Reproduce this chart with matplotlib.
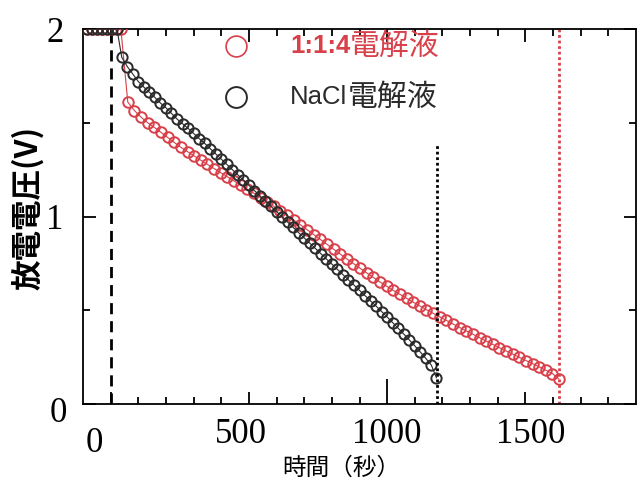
import matplotlib
matplotlib.use('Agg')
import matplotlib.pyplot as plt
from matplotlib.transforms import ScaledTranslation

# ---- data (time in s, voltage in V) ----
mix_t = [-85, -67, -49, -31, -13, 5, 23, 37,
         62, 86, 110, 134, 158, 182, 206, 230, 254, 278, 302, 326, 350, 374,
         398, 422, 446, 470, 494, 518, 542, 566, 590, 614, 638, 662, 686, 710,
         734, 758, 782, 806, 830, 854, 878, 902, 926, 950, 974, 998, 1022,
         1046, 1070, 1094, 1118, 1142, 1166, 1190, 1214, 1238, 1262, 1286,
         1310, 1334, 1358, 1382, 1406, 1430, 1454, 1478, 1502, 1526, 1550,
         1574, 1598, 1620]
mix_v = [2.0, 2.0, 2.0, 2.0, 2.0, 2.0, 2.0, 2.0,
         1.61, 1.565, 1.53, 1.50, 1.475, 1.449, 1.422, 1.395, 1.369, 1.346,
         1.323, 1.30, 1.278, 1.256, 1.234, 1.212, 1.19, 1.168, 1.146, 1.124,
         1.101, 1.078, 1.054, 1.03, 1.006, 0.981, 0.956, 0.93, 0.904, 0.878,
         0.852, 0.826, 0.80, 0.774, 0.749, 0.724, 0.699, 0.675, 0.651, 0.628,
         0.606, 0.585, 0.564, 0.543, 0.523, 0.503, 0.484, 0.465, 0.446, 0.427,
         0.408, 0.39, 0.372, 0.354, 0.336, 0.318, 0.30, 0.283, 0.266, 0.249,
         0.232, 0.215, 0.198, 0.18, 0.162, 0.135]

nacl_t = [-85, -67, -49, -31, -13, 5, 23,
          40, 60, 80, 100, 120, 140, 160, 180, 200, 220, 240, 260, 280, 300,
          320, 340, 360, 380, 400, 420, 440, 460, 480, 500, 520, 540, 560, 580,
          600, 620, 640, 660, 680, 700, 720, 740, 760, 780, 800, 820, 840, 860,
          880, 900, 920, 940, 960, 980, 1000, 1020, 1040, 1060, 1080, 1100,
          1120, 1140, 1160, 1178]
nacl_v = [2.0, 2.0, 2.0, 2.0, 2.0, 2.0, 2.0,
          1.85, 1.80, 1.76, 1.72, 1.69, 1.663, 1.635, 1.605, 1.58, 1.55, 1.52,
          1.495, 1.47, 1.443, 1.416, 1.39, 1.362, 1.334, 1.306, 1.278, 1.25,
          1.222, 1.194, 1.166, 1.138, 1.11, 1.082, 1.054, 1.026, 0.998, 0.97,
          0.942, 0.914, 0.886, 0.858, 0.83, 0.802, 0.774, 0.746, 0.718, 0.69,
          0.662, 0.634, 0.606, 0.578, 0.55, 0.522, 0.493, 0.464, 0.434, 0.404,
          0.373, 0.342, 0.31, 0.277, 0.243, 0.207, 0.14]

discharge_start = 0
nacl_end = 1180
nacl_marker_top = 1.38
mix_end = 1621

mix_label = "1:1:4"
nacl_label = "NaCl"
suffix = "電解液"
xlabel = "時間（秒）"
ylabel = "放電電圧(V)"
x_major = [0, 500, 1000, 1500]
x_major_labels = ["0", "500", "1000", "1500"]
y_major = [0, 1, 2]
y_major_labels = ["0", "1", "2"]

RED = '#d8404a'
BLK = '#2a2a2a'
SANS = ['Liberation Sans', 'Noto Sans CJK JP']
CJK = ['Noto Sans CJK JP', 'DejaVu Sans']

fig = plt.figure(figsize=(6.41, 4.93), dpi=100)
ax = fig.add_axes([83/641, 1 - 404/493, (636 - 83)/641, (404 - 29)/493])
ax.set_xlim(-100, 1900)
ax.set_ylim(0, 2)

ax.plot(mix_t, mix_v, '-', color=RED, lw=0.8, marker='o', ms=7.6,
        mfc='none', mec=RED, mew=1.4, zorder=3)
ax.plot(nacl_t, nacl_v, '-', color=BLK, lw=0.8, marker='o', ms=7.4,
        mfc='none', mec=BLK, mew=1.4, zorder=4)

ax.axvline(discharge_start, color='black', lw=2.0, ls=(0, (4, 2.5)), zorder=2)
ax.vlines(nacl_end, 0, nacl_marker_top, color='black', lw=2.0,
          linestyles=(0, (1, 1)), zorder=5)
ax.axvline(mix_end, color=RED, lw=2.0, ls=(0, (1, 1)), zorder=2)

for s in ax.spines.values():
    s.set_linewidth(1.3)

ax.set_xticks(x_major)
ax.set_xticklabels(x_major_labels)
ax.set_xticks(range(100, 1900, 100), minor=True)
ax.set_yticks(y_major)
ax.set_yticklabels(y_major_labels)
ax.set_yticks([0.5, 1.5], minor=True)
ax.tick_params(which='both', direction='in', top=True, right=True, width=1.3,
               color='black')
ax.tick_params(which='major', length=9)
ax.tick_params(which='minor', length=5)
ax.tick_params(axis='x', which='major', pad=10)
ax.tick_params(axis='y', which='major', pad=14)
for lab in ax.get_xticklabels() + ax.get_yticklabels():
    lab.set_fontfamily('Liberation Serif')
    lab.set_fontsize(25)
# the 1000 s tick on the bottom axis is drawn longer in the reference
long_tick = ax.xaxis.get_major_ticks()[2].tick1line
long_tick.set_markersize(18)
long_tick.set_color('black')

# shift tick labels to where the reference places them
shifts = {0: (-16, -9), 1: (-8, 0), 2: (0, 0), 3: (5, 0)}
for i, lab in enumerate(ax.get_xticklabels()):
    dx, dy = shifts[i]
    lab.set_transform(lab.get_transform() + ScaledTranslation(dx/100, dy/100, fig.dpi_scale_trans))
ylabs = ax.get_yticklabels()
ylabs[0].set_transform(ylabs[0].get_transform() + ScaledTranslation(3/100, -6/100, fig.dpi_scale_trans))

fig.text(341/641, 1 - 468/493, xlabel, family=CJK, fontsize=17,
         ha='center', va='center')
fig.text(28/641, 1 - 208/493, ylabel, family=CJK, fontsize=22, weight='bold',
         rotation=90, ha='center', va='center')

# legend
ax.plot([0.277], [0.955], transform=ax.transAxes, marker='o', ms=15,
        mfc='none', mec=RED, mew=1.2, ls='none', clip_on=False)
ax.plot([0.277], [0.818], transform=ax.transAxes, marker='o', ms=15,
        mfc='none', mec=BLK, mew=1.4, ls='none', clip_on=False)
t1 = fig.text(290/641, 1 - 46/493, mix_label, family=SANS, fontsize=18.5,
              weight='bold', color=RED, ha='left', va='center')
ax.annotate(suffix, xy=(1.0, 0.5), xycoords=t1, xytext=(0, 0),
            textcoords='offset points', family=CJK, fontsize=21.5,
            color=RED, ha='left', va='center')
t2 = fig.text(290/641, 1 - 97/493, nacl_label, family=SANS, fontsize=18.5,
              color=BLK, ha='left', va='center')
ax.annotate(suffix, xy=(1.0, 0.5), xycoords=t2, xytext=(0, 0),
            textcoords='offset points', family=CJK, fontsize=21.5,
            color=BLK, ha='left', va='center')

fig.savefig('out.png', dpi=100)
